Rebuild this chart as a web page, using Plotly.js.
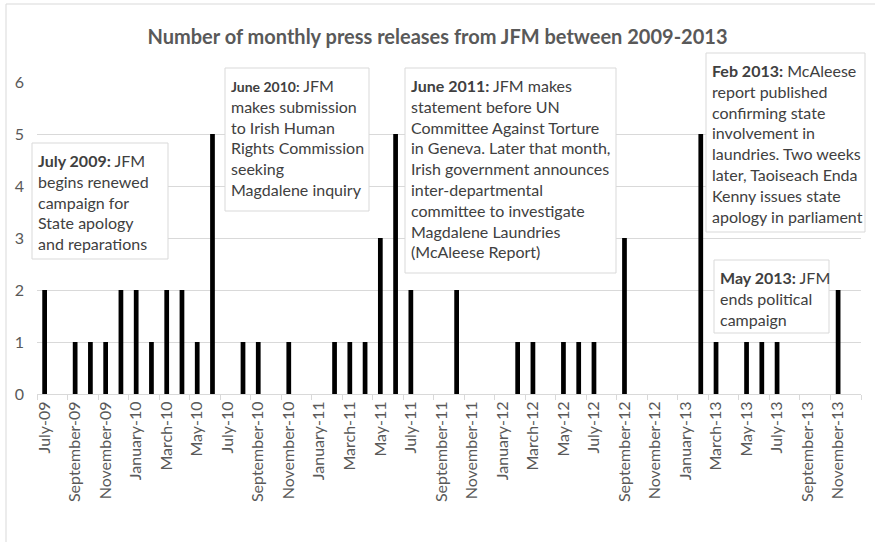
<!DOCTYPE html>
<html>
<head>
<meta charset="utf-8">
<script src="https://cdn.plot.ly/plotly-3.0.1.min.js"></script>
<style>html,body{margin:0;padding:0;background:#fff;}#chart{width:875px;height:542px;}</style>
</head>
<body>
<div id="chart"></div>
<script>
const months = [
  "July-09","August-09","September-09","October-09","November-09","December-09",
  "January-10","February-10","March-10","April-10","May-10","June-10",
  "July-10","August-10","September-10","October-10","November-10","December-10",
  "January-11","February-11","March-11","April-11","May-11","June-11",
  "July-11","August-11","September-11","October-11","November-11","December-11",
  "January-12","February-12","March-12","April-12","May-12","June-12",
  "July-12","August-12","September-12","October-12","November-12","December-12",
  "January-13","February-13","March-13","April-13","May-13","June-13",
  "July-13","August-13","September-13","October-13","November-13","December-13"
];
const pressReleases = [
  2,0,1,1,1,2,
  2,1,2,2,1,5,
  0,1,1,0,1,0,
  0,1,1,1,3,5,
  2,0,0,2,0,0,
  0,1,1,0,1,1,
  1,0,3,0,0,0,
  0,5,1,0,1,1,
  1,0,0,0,2,0
];
const titleText = "Number of monthly press releases from JFM between 2009-2013";
const notes = [
  {bold: "July 2009:", body: " JFM<br>begins renewed<br>campaign for<br>State apology<br>and reparations"},
  {bold: "June 2010:", body: " JFM<br>makes submission<br>to Irish Human<br>Rights Commission<br>seeking<br>Magdalene inquiry"},
  {bold: "June 2011:", body: " JFM makes<br>statement before UN<br>Committee Against Torture<br>in Geneva. Later that month,<br>Irish government announces<br>inter-departmental<br>committee to investigate<br>Magdalene Laundries<br>(McAleese Report)"},
  {bold: "Feb 2013:", body: " McAleese<br>report published<br>confirming state<br>involvement in<br>laundries. Two weeks<br>later, Taoiseach Enda<br>Kenny issues state<br>apology in parliament"},
  {bold: "May 2013:", body: " JFM<br>ends political<br>campaign"}
];

// layout geometry (pixels)
const W = 875, H = 542, L = 37, R = 861, T = 82, B = 394;
const px = x => (x - L) / (R - L);
const py = y => (B - y) / (B - T);
// boxes in pixels [x0, y0, x1, y1]
const boxes = [
  [32, 143, 168, 259],
  [225, 68, 369, 211],
  [405, 68, 616, 273],
  [706, 53, 865, 232],
  [714, 260, 829, 333]
];
const boldSize = [16, 14, 16, 16, 16];

const font = "Lato, 'Open Sans', sans-serif";
const shapes = [{
  type: "rect", xref: "paper", yref: "paper", layer: "below",
  x0: px(6), x1: px(890), y0: py(560), y1: py(4),
  line: {color: "#d9d9d9", width: 1}, fillcolor: "rgba(0,0,0,0)"
}];
const annotations = [];
boxes.forEach((b, i) => {
  shapes.push({
    type: "rect", xref: "paper", yref: "paper", layer: "above",
    x0: px(b[0]), x1: px(b[2]), y0: py(b[3]), y1: py(b[1]),
    line: {color: "#d9d9d9", width: 1}, fillcolor: "#ffffff"
  });
  annotations.push({
    xref: "paper", yref: "paper", x: px(b[0] + 4), y: py(b[1] + 6),
    xanchor: "left", yanchor: "top", align: "left", showarrow: false,
    text: "<b><span style='font-size:" + boldSize[i] + "px'>" + notes[i].bold + "</span></b>" + notes[i].body,
    font: {family: font, size: 16, color: "#404040"}
  });
});

const trace = {
  type: "bar", x: months, y: pressReleases,
  marker: {color: "#000000", line: {width: 0}},
  hoverinfo: "x+y"
};

const layout = {
  width: W, height: H,
  margin: {l: L, r: W - R, t: T, b: H - B, pad: 0},
  paper_bgcolor: "#ffffff", plot_bgcolor: "#ffffff",
  bargap: 0.69,
  showlegend: false,
  font: {family: font, color: "#595959"},
  title: {
    text: "<b>" + titleText + "</b>",
    font: {family: font, size: 20, color: "#595959"},
    x: 0.5, xanchor: "center", xref: "container",
    y: 1 - 37 / H, yanchor: "middle", yref: "container"
  },
  xaxis: {
    type: "category", categoryorder: "array", categoryarray: months,
    range: [-0.5, months.length - 0.5],
    dtick: 2, tickangle: -90, tickson: "boundaries",
    ticks: "outside", ticklen: 5, tickcolor: "#d9d9d9",
    showline: true, linecolor: "#d9d9d9", linewidth: 1,
    showgrid: false, zeroline: false,
    tickfont: {family: font, size: 16, color: "#595959"},
    automargin: false
  },
  yaxis: {
    range: [0, 6], dtick: 1, tick0: 0,
    showgrid: true, gridcolor: "#d9d9d9", gridwidth: 1,
    zeroline: false, showline: false, ticks: "",
    ticklabelstandoff: 12,
    tickfont: {family: font, size: 16, color: "#595959"},
    automargin: false
  },
  shapes: shapes,
  annotations: annotations
};

Plotly.newPlot("chart", [trace], layout, {displayModeBar: false, staticPlot: true});
</script>
</body>
</html>
